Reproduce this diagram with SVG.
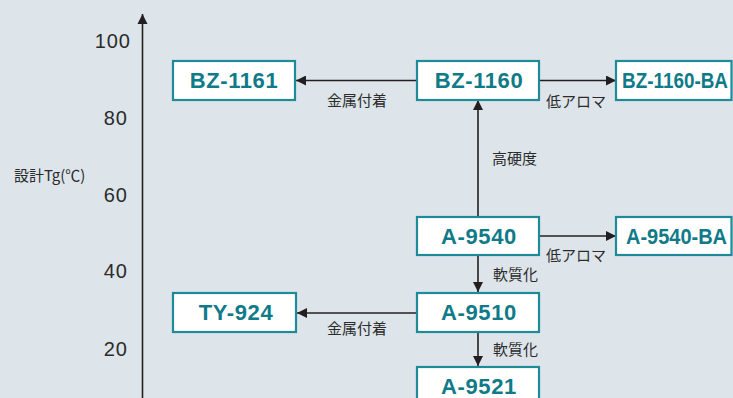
<svg xmlns="http://www.w3.org/2000/svg" width="733" height="398" viewBox="0 0 733 398">
<defs>
<style>
.box{fill:#ffffff;stroke:#1f8a98;stroke-width:2.2}
.nt{font-family:"Liberation Sans",Arial,sans-serif;font-weight:bold;font-size:22px;fill:#0f7a88;text-anchor:middle;letter-spacing:0.6px}
.nts{font-family:"Liberation Sans",Arial,sans-serif;font-weight:bold;font-size:22px;fill:#0f7a88;text-anchor:start}
.lb{font-family:"Noto Sans CJK JP",sans-serif;font-size:15px;fill:#2b2b2b}
.tk{font-family:"Liberation Sans",Arial,sans-serif;font-size:20px;fill:#2b2b2b;text-anchor:end;letter-spacing:1px}
.ln{stroke:#231f20;stroke-width:1.6;fill:none}
</style>
<marker id="ah" viewBox="0 0 10 10" refX="10" refY="5" markerWidth="10" markerHeight="10" markerUnits="userSpaceOnUse" orient="auto">
<path d="M0,0 L10,5 L0,10 Z" fill="#231f20"/>
</marker>
<marker id="ax" viewBox="0 0 12 10" refX="10" refY="5" markerWidth="12" markerHeight="11" markerUnits="userSpaceOnUse" orient="auto">
<path d="M0,0 L10,5 L0,10 Z" fill="#231f20"/>
</marker>
</defs>
<rect x="0" y="0" width="733" height="398" fill="#dde5ea"/>
<g id="axis">
<line class="ln" x1="142.5" y1="398" x2="142.5" y2="14" stroke-width="1.8" marker-end="url(#ax)"/>
<text class="tk" x="131" y="48">100</text>
<text class="tk" x="128" y="125">80</text>
<text class="tk" x="128" y="202">60</text>
<text class="tk" x="128" y="278">40</text>
<text class="tk" x="128" y="356">20</text>
<text class="lb" x="14" y="181" font-size="14.5">設計Tg(℃)</text>
</g>
<g id="connectors">
<line class="ln" x1="417" y1="80.5" x2="296" y2="80.5" marker-end="url(#ah)"/>
<line class="ln" x1="539" y1="80.5" x2="616" y2="80.5" marker-end="url(#ah)"/>
<line class="ln" x1="478" y1="217" x2="478" y2="100" marker-end="url(#ah)"/>
<line class="ln" x1="539" y1="236" x2="616" y2="236" marker-end="url(#ah)"/>
<line class="ln" x1="478" y1="255" x2="478" y2="292" marker-end="url(#ah)"/>
<line class="ln" x1="417" y1="313" x2="297" y2="313" marker-end="url(#ah)"/>
<line class="ln" x1="478" y1="332" x2="478" y2="366" marker-end="url(#ah)"/>
<text class="lb" x="327" y="106">金属付着</text>
<text class="lb" x="546" y="107">低アロマ</text>
<text class="lb" x="492" y="164">高硬度</text>
<text class="lb" x="546" y="261">低アロマ</text>
<text class="lb" x="493" y="280">軟質化</text>
<text class="lb" x="327" y="334">金属付着</text>
<text class="lb" x="493" y="355">軟質化</text>
</g>
<g id="BZ-1161">
<rect class="box" x="173" y="61" width="122" height="39"/>
<text class="nt" x="234" y="88">BZ-1161</text>
</g>
<g id="BZ-1160">
<rect class="box" x="417" y="61" width="122" height="39"/>
<text class="nt" x="479" y="88">BZ-1160</text>
</g>
<g id="BZ-1160-BA">
<rect class="box" x="616" y="61" width="115.5" height="39"/>
<text class="nts" x="622" y="88" textLength="106" lengthAdjust="spacingAndGlyphs">BZ-1160-BA</text>
</g>
<g id="A-9540">
<rect class="box" x="417" y="217" width="122" height="38"/>
<text class="nt" x="479" y="244">A-9540</text>
</g>
<g id="A-9540-BA">
<rect class="box" x="616" y="217" width="115.5" height="38"/>
<text class="nts" x="626" y="244" textLength="101" lengthAdjust="spacingAndGlyphs">A-9540-BA</text>
</g>
<g id="A-9510">
<rect class="box" x="417" y="293" width="122" height="39"/>
<text class="nt" x="479" y="320">A-9510</text>
</g>
<g id="TY-924">
<rect class="box" x="173" y="293" width="123" height="39"/>
<text class="nt" x="236" y="320">TY-924</text>
</g>
<g id="A-9521">
<rect class="box" x="417" y="367" width="122" height="40"/>
<text class="nt" x="479" y="394">A-9521</text>
</g>
</svg>
